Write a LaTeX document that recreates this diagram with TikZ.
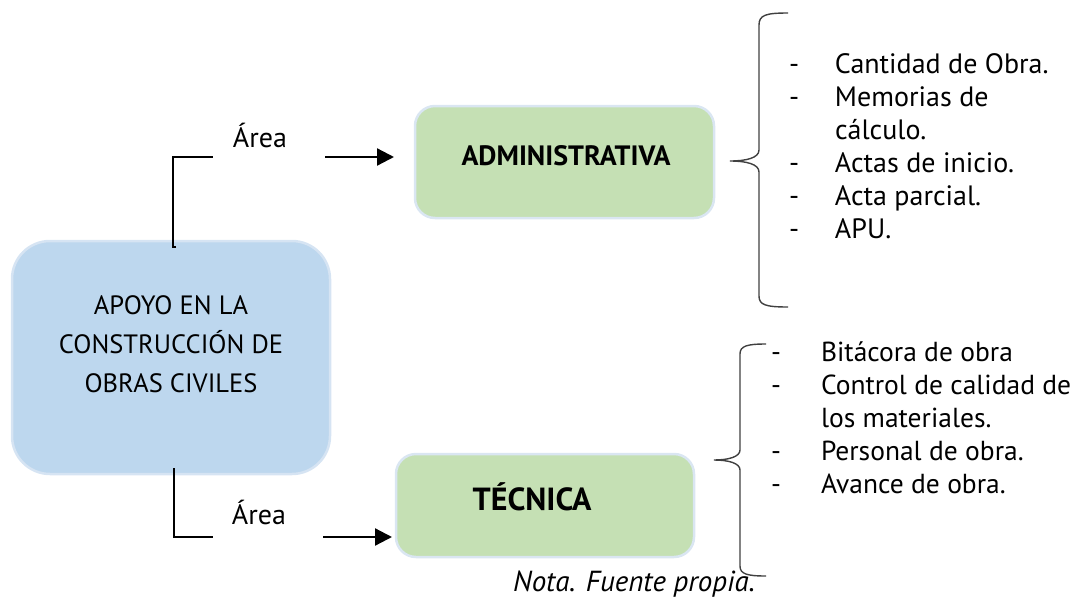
\documentclass[tikz,border=0pt]{standalone}
\usepackage{fontspec}
\setmainfont{PT Sans}
\usetikzlibrary{arrows.meta}
\definecolor{bluefill}{HTML}{BDD7EE}
\definecolor{blueedge}{HTML}{D6E4F3}
\definecolor{greenfill}{HTML}{C5E0B4}
\definecolor{greenedge}{HTML}{DAE6F2}
\definecolor{bracecol}{HTML}{404040}
\tikzset{
  every node/.style={inner sep=0pt, outer sep=0pt},
  bluebox/.style={fill=bluefill, draw=blueedge, line width=2.5pt, rounded corners=38pt},
  greenbox/.style={fill=greenfill, draw=greenedge, line width=2.5pt, rounded corners=20pt},
  maintext/.style={font=\fontsize{26.5}{39}\selectfont, align=center},
  boldtext/.style={font=\fontsize{28}{33}\selectfont\bfseries},
  listtext/.style={font=\fontsize{28}{33}\selectfont, align=left},
  conn/.style={line width=2.3pt, black},
  arr/.style={conn, -{Triangle[length=17pt,width=17pt]}},
  bracestyle/.style={draw=bracecol, line width=1.4pt},
}
\begin{document}
\begin{tikzpicture}[x=1pt,y=-1pt]
\useasboundingbox (0,0) rectangle (1077,600);
% boxes
\node[bluebox, minimum width=318pt, minimum height=233pt] (apoyo) at (171,357.5) {};
\node[maintext] (apoyotxt) at (171,344) {APOYO EN LA\\CONSTRUCCIÓN DE\\OBRAS CIVILES};
\node[greenbox, minimum width=299pt, minimum height=112pt] (adm) at (564.5,162) {};
\node[boldtext] (admtxt) at (566,156) {ADMINISTRATIVA};
\node[greenbox, minimum width=298pt, minimum height=103pt] (tec) at (545,505.5) {};
\node[boldtext, font=\fontsize{32}{33}\selectfont\bfseries] (tectxt) at (532,497) {TÉCNICA};
% labels
\node[listtext] (area1) at (260,135) {Área};
\node[listtext] (area2) at (259,512) {Área};
% upper connector
\coordinate (u0) at (176,247);
\coordinate (u1) at (173,247);
\coordinate (u2) at (213,157);
\draw[conn] (u0) -- (u1) |- (u2);
\coordinate (a1) at (325,157);
\draw[arr, shorten >=21pt] (a1) -- (adm.west |- a1);
% lower connector
\coordinate (d1) at (174,468);
\coordinate (d2) at (213,537);
\draw[conn] (d1) |- (d2);
\coordinate (b1) at (323,537);
\draw[arr, shorten >=4pt] (b1) -- (tec.west |- b1);
% upper brace
\draw[bracestyle] (788,13) .. controls (766,13) and (759,15) .. (759,25) -- (759,150)
  .. controls (759,158) and (746,161) .. (730,161)
  .. controls (746,161) and (759,164) .. (759,172) -- (759,296)
  .. controls (759,305) and (766,307) .. (788,307);
% lower brace
\draw[bracestyle] (766,344) .. controls (747,344) and (740,346) .. (740,354) -- (740,450)
  .. controls (740,457) and (728,460) .. (714,460)
  .. controls (728,460) and (740,463) .. (740,470) -- (740,566)
  .. controls (740,574) and (747,576) .. (766,576);
% lists
\node[listtext, anchor=north west] (list1) at (789,50) {%
\begin{tabular}{@{}p{46pt}@{}l@{}}
- & Cantidad de Obra.\\
- & Memorias de\\
  & cálculo.\\
- & Actas de inicio.\\
- & Acta parcial.\\
- & APU.
\end{tabular}};
\node[listtext, anchor=north west, font=\fontsize{27.5}{33}\selectfont] (list2) at (771,338) {%
\begin{tabular}{@{}p{50pt}@{}l@{}}
- & Bitácora de obra\\
- & Control de calidad de\\
  & los materiales.\\
- & Personal de obra.\\
- & Avance de obra.
\end{tabular}};
% note
\node[listtext, font=\fontsize{29}{33}\selectfont\itshape] (nota) at (634,584) {Nota. Fuente propia.};
\end{tikzpicture}
\end{document}
